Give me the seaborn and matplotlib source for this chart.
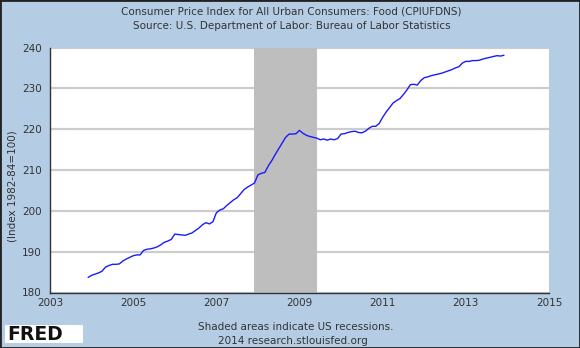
import numpy as np
import pandas as pd
import matplotlib
matplotlib.use("Agg")
import matplotlib.pyplot as plt
from matplotlib.patches import Rectangle
import seaborn as sns

# Monthly CPI for food (index 1982-84=100), Dec 2003 through Dec 2013
start_month = "2003-12-01"
cpi_food = [
    183.7,
    184.2, 184.5, 184.8, 185.2, 186.2, 186.6, 186.9, 186.9, 187.0, 187.7, 188.2, 188.6,
    189.0, 189.2, 189.2, 190.3, 190.6, 190.7, 190.9, 191.2, 191.7, 192.3, 192.6, 193.0,
    194.3, 194.2, 194.1, 194.0, 194.3, 194.6, 195.2, 195.8, 196.6, 197.1, 196.8, 197.3,
    199.5, 200.2, 200.5, 201.3, 202.0, 202.7, 203.2, 204.2, 205.2, 205.8, 206.3, 206.8,
    208.8, 209.2, 209.4, 211.0, 212.3, 213.8, 215.2, 216.6, 218.0, 218.8, 218.8, 218.9,
    219.7, 219.0, 218.5, 218.2, 218.0, 217.8, 217.4, 217.6, 217.3, 217.6, 217.4, 217.7,
    218.8, 218.9, 219.2, 219.4, 219.5, 219.2, 219.1, 219.5, 220.2, 220.7, 220.7, 221.4,
    222.9, 224.2, 225.3, 226.4, 227.0, 227.5, 228.5, 229.6, 230.9, 231.0, 230.8, 231.9,
    232.6, 232.8, 233.1, 233.3, 233.5, 233.7, 234.0, 234.3, 234.6, 235.0, 235.3, 236.2,
    236.6, 236.6, 236.8, 236.8, 236.9, 237.2, 237.4, 237.6, 237.8, 238.0, 237.9, 238.1,
]

# US recession (NBER), Dec 2007 - Jun 2009
recession_start = "2007-12-01"
recession_end = "2009-06-01"

x_ticks = [2003, 2005, 2007, 2009, 2011, 2013, 2015]
y_ticks = [180, 190, 200, 210, 220, 230, 240]

title_lines = [
    "Consumer Price Index for All Urban Consumers: Food (CPIUFDNS)",
    "Source: U.S. Department of Labor: Bureau of Labor Statistics",
]
y_label = "(Index 1982-84=100)"
footer_lines = ["Shaded areas indicate US recessions.", "2014 research.stlouisfed.org"]


def decimal_year(ts):
    ts = pd.to_datetime(ts)
    return ts.year + (ts.month - 1) / 12.0


dates = pd.date_range(start_month, periods=len(cpi_food), freq="MS")
df = pd.DataFrame({"year": decimal_year(dates), "cpi": cpi_food})

bg = "#b4cde4"
text_col = "#333333"

sns.set_theme(style="white")
plt.rcParams["font.family"] = ["DejaVu Sans"]

fig = plt.figure(figsize=(5.8, 3.48), dpi=100, facecolor=bg)
ax = fig.add_axes([50 / 580, 1 - 292.5 / 348, 499 / 580, 245 / 348])
ax.set_facecolor("white")

ax.axvspan(decimal_year(recession_start), decimal_year(recession_end),
           color="#bebebe", lw=0, zorder=1)

sns.lineplot(data=df, x="year", y="cpi", ax=ax, color="#1a1aff", lw=1.0, zorder=3)

ax.set_xlim(x_ticks[0], x_ticks[-1])
ax.set_ylim(y_ticks[0], y_ticks[-1])
ax.set_xticks(x_ticks)
ax.set_yticks(y_ticks)
ax.set_xticklabels([str(t) for t in x_ticks])
ax.set_yticklabels([str(t) for t in y_ticks])
ax.grid(axis="y", color="#cccccc", lw=1.6, zorder=0)
ax.set_axisbelow(True)
ax.tick_params(axis="both", direction="in", length=5, width=1, color="#555555",
               labelsize=7.5, labelcolor=text_col, pad=4)
ax.tick_params(axis="y", pad=6)
ax.set_xlabel("")
ax.set_ylabel("")
for side in ("top", "right"):
    ax.spines[side].set_visible(False)
for side in ("left", "bottom"):
    ax.spines[side].set_color("#333333")
    ax.spines[side].set_linewidth(1.0)

fig.text(13 / 580, 1 - 186 / 348, y_label, ha="center", va="center",
         rotation=90, fontsize=7.5, color=text_col)

fig.text(0.503, 1 - 12 / 348, title_lines[0], ha="center", va="center",
         fontsize=7.5, color=text_col)
fig.text(0.503, 1 - 26 / 348, title_lines[1], ha="center", va="center",
         fontsize=7.5, color=text_col)
fig.text(296 / 580, 1 - 327 / 348, footer_lines[0], ha="center", va="center",
         fontsize=7.5, color=text_col)
fig.text(293 / 580, 1 - 341 / 348, footer_lines[1], ha="center", va="center",
         fontsize=7.5, color=text_col)

# FRED logo block
fig.patches.append(Rectangle((5 / 580, 1 - 343 / 348), 78 / 580, 18 / 348,
                             transform=fig.transFigure, facecolor="white",
                             edgecolor="none", zorder=5))
fig.text(7 / 580, 1 - 334 / 348, "FRED", ha="left", va="center", fontsize=13.5,
         fontweight="heavy", color="#111111", zorder=6)

# outer frame
fig.patches.append(Rectangle((0, 0), 1, 1, transform=fig.transFigure,
                             facecolor="none", edgecolor="#222222", lw=2, zorder=10))

fig.savefig("out.png", dpi=100, facecolor=bg)
